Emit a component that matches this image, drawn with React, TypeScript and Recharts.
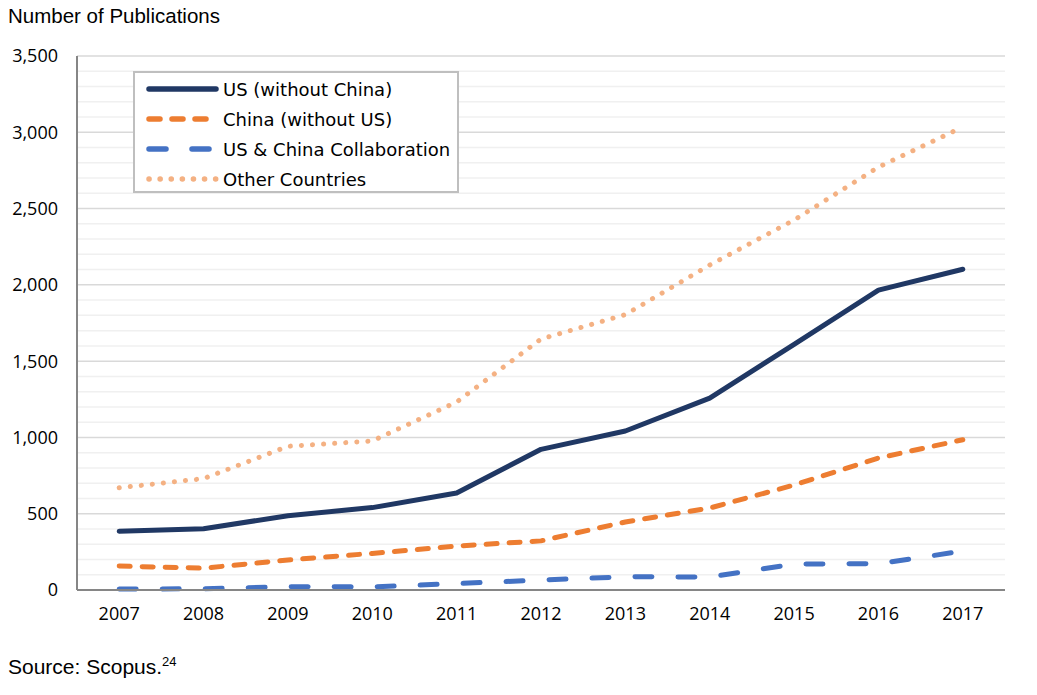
import { LineChart, Line, XAxis, YAxis, CartesianGrid, ReferenceLine } from "recharts";

// publication counts per year
const years = [2007, 2008, 2009, 2010, 2011, 2012, 2013, 2014, 2015, 2016, 2017];
const usOnly = [385, 402, 487, 540, 636, 922, 1042, 1258, 1610, 1965, 2102];
const chinaOnly = [157, 143, 197, 240, 288, 322, 446, 537, 688, 865, 985];
const collaboration = [6, 8, 22, 20, 42, 65, 87, 85, 170, 172, 255];
const otherCountries = [670, 730, 942, 977, 1232, 1645, 1805, 2130, 2425, 2772, 3035];

const yTicks = [0, 500, 1000, 1500, 2000, 2500, 3000, 3500];
// minor grid every 100 publications
const minorTicks = Array.from({ length: 36 }, (_, i) => i * 100).filter((v) => v % 500 !== 0);

const chartData = years.map((year, i) => ({
  year,
  us: usOnly[i],
  china: chinaOnly[i],
  collab: collaboration[i],
  other: otherCountries[i],
}));

const seriesStyles = [
  { key: "us", name: "US (without China)", color: "#203864", dash: undefined as string | undefined },
  { key: "china", name: "China (without US)", color: "#ED7D31", dash: "11 12" },
  { key: "collab", name: "US & China Collaboration", color: "#4472C4", dash: "17 26" },
  { key: "other", name: "Other Countries", color: "#F4B183", dash: "0.1 11" },
];

const tickFont = { fill: "#000", fontSize: 18, fontFamily: "'Open Sans', sans-serif" };

const LegendBox = () => (
  <div
    style={{
      position: "absolute",
      left: 133,
      top: 71,
      border: "2px solid #bfbfbf",
      background: "#fff",
      width: 326,
      height: 122,
      boxSizing: "border-box",
      padding: "1px 0 0 11px",
      fontFamily: "'DejaVu Sans', sans-serif",
      fontSize: 18,
      color: "#000",
    }}
  >
    {seriesStyles.map((s) => (
      <div key={s.key} style={{ display: "flex", alignItems: "center", height: 30 }}>
        <svg width={77} height={12}>
          <line
            x1={3}
            x2={70}
            y1={6}
            y2={6}
            stroke={s.color}
            strokeWidth={5.5}
            strokeLinecap="round"
            strokeDasharray={s.dash}
          />
        </svg>
        <span>{s.name}</span>
      </div>
    ))}
  </div>
);

export default function App() {
  return (
    <div style={{ position: "absolute", left: 0, top: 0, width: 1037, height: 695, background: "#fff" }}>
      <div
        style={{
          position: "absolute",
          left: 8,
          top: 4,
          fontFamily: "'Liberation Sans', Arial, sans-serif",
          fontSize: 20.5,
        }}
      >
        Number of Publications
      </div>
      <LineChart
        width={1037}
        height={695}
        data={chartData}
        margin={{ top: 56, right: 32, left: 7, bottom: 75 }}
      >
        <CartesianGrid vertical={false} stroke="#d9d9d9" strokeWidth={1.5} />
        {minorTicks.map((v) => (
          <ReferenceLine key={v} y={v} stroke="#f0f0f0" strokeWidth={1.5} />
        ))}
        <XAxis
          dataKey="year"
          type="number"
          domain={[2006.5, 2017.5]}
          ticks={years}
          axisLine={{ stroke: "#868686", strokeWidth: 2 }}
          tickLine={false}
          tickSize={0}
          tickMargin={17}
          height={30}
          tick={tickFont}
        />
        <YAxis
          domain={[0, 3500]}
          ticks={yTicks}
          width={70}
          axisLine={{ stroke: "#868686", strokeWidth: 2 }}
          tickLine={false}
          tickSize={0}
          tickMargin={19}
          tick={tickFont}
          tickFormatter={(v: number) => v.toLocaleString("en-US")}
        />
        {seriesStyles.map((s) => (
          <Line
            key={s.key}
            type="linear"
            dataKey={s.key}
            name={s.name}
            stroke={s.color}
            strokeWidth={5}
            strokeLinecap="round"
            strokeLinejoin="round"
            strokeDasharray={s.dash}
            dot={false}
            activeDot={false}
            isAnimationActive={false}
          />
        ))}
      </LineChart>
      <LegendBox />
      <div
        style={{
          position: "absolute",
          left: 8,
          top: 654,
          fontFamily: "'Liberation Sans', Arial, sans-serif",
          fontSize: 21,
        }}
      >
        Source: Scopus.<sup style={{ fontSize: 13 }}>24</sup>
      </div>
    </div>
  );
}
